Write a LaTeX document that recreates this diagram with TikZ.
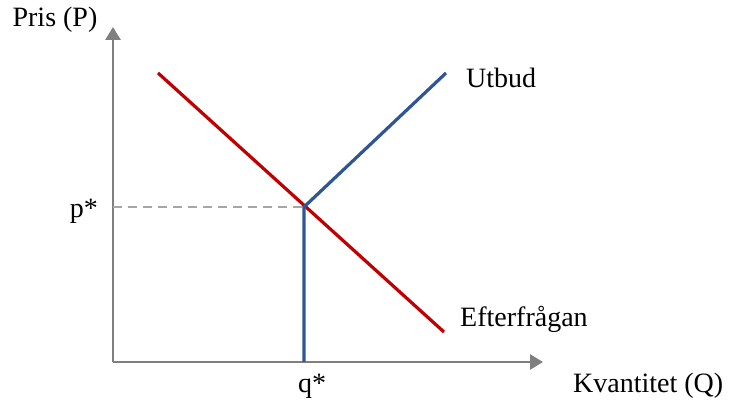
\documentclass[tikz,border=0pt]{standalone}
\usepackage{fontspec}
\setmainfont{Liberation Serif}
\usetikzlibrary{arrows.meta}
\definecolor{axisgray}{HTML}{7F7F7F}
\definecolor{dashgray}{HTML}{A6A6A6}
\definecolor{demandred}{HTML}{C00000}
\definecolor{supplyblue}{HTML}{2F5597}
\begin{document}
\begin{tikzpicture}[x=1pt, y=1pt,
    axis/.style = {axisgray, line width=2.8pt, -{Triangle[length=13pt, width=15pt]}},
    curve/.style = {line width=3.2pt},
    lbl/.style = {font=\fontsize{28}{33}\selectfont, inner sep=0pt}]
    \useasboundingbox (0,0) rectangle (731,401);

    % Axes
    \coordinate (O) at (113,39);
    \coordinate (ytop) at (113,374);
    \coordinate (xend) at (543,39);
    \draw[axis] (O) -- (ytop);
    \draw[axis] (O) -- (xend);

    % Equilibrium
    \coordinate (E) at (304,194);
    \coordinate (pstar) at (113,194);
    \coordinate (qstar) at (304,39);
    \draw[dashgray, line width=1.8pt, dash pattern=on 9pt off 6pt] (pstar) -- (E);

    % Demand
    \coordinate (D1) at (158,328);
    \coordinate (D2) at (444,69);
    \draw[curve, demandred] (D1) -- (D2);

    % Supply
    \coordinate (S2) at (446,328);
    \draw[curve, supplyblue] (qstar) -- (E) -- (S2);

    % Labels
    \node[lbl] (plabel) at (55,381) {Pris (P)};
    \node[lbl, anchor=west] (qlabel) at (573,15) {Kvantitet (Q)};
    \node[lbl, anchor=east] (pval) at (98,190) {p*};
    \node[lbl] (qval) at (312,15) {q*};
    \node[lbl, anchor=west] (utbud) at (466,323) {Utbud};
    \node[lbl, anchor=west] (efter) at (460,82) {Efterfrågan};
\end{tikzpicture}
\end{document}
